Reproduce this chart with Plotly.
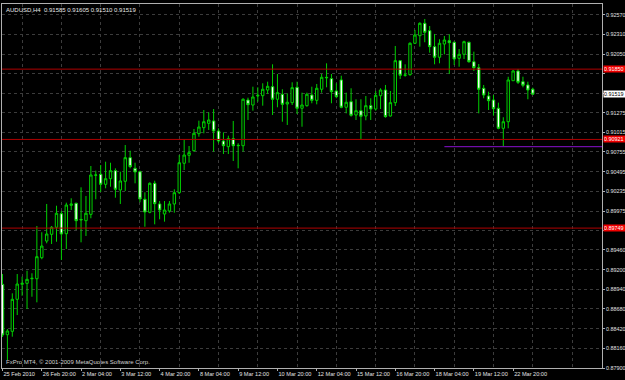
import plotly.graph_objects as go

# ---- data (AUDUSD H4, bars indexed from 25 Feb 2010 12:00) ----
opens = [0.89006, 0.88340, 0.88385, 0.88808, 0.89006, 0.89019, 0.89080, 0.89080, 0.89358, 0.89578,
         0.89667, 0.89760, 0.89939, 0.89675, 0.90050, 0.90077, 0.89856, 0.89847, 0.89931, 0.90447,
         0.90460, 0.90328, 0.90402, 0.90508, 0.90253, 0.90368, 0.90680, 0.90539, 0.90494, 0.90130,
         0.89958, 0.90341, 0.90068, 0.89935, 0.89975, 0.90068, 0.90217, 0.90606, 0.90711, 0.90772,
         0.90997, 0.91076, 0.91134, 0.91165, 0.91032, 0.90900, 0.90825, 0.90931, 0.90843, 0.90838,
         0.91442, 0.91376, 0.91495, 0.91499, 0.91574, 0.91618, 0.91452, 0.91518, 0.91389, 0.91407,
         0.91610, 0.91333, 0.91367, 0.91508, 0.91438, 0.91584, 0.91742, 0.91724, 0.91561, 0.91707,
         0.91346, 0.91420, 0.91244, 0.91301, 0.91231, 0.91367, 0.91323, 0.91499, 0.91574, 0.91231,
         0.91407, 0.91962, 0.91769, 0.91777, 0.92192, 0.92292, 0.92456, 0.92358, 0.92147, 0.92007,
         0.92182, 0.92226, 0.92205, 0.91993, 0.92046, 0.92205, 0.91948, 0.91869, 0.91597, 0.91495,
         0.91442, 0.91333, 0.91068, 0.91155, 0.91697, 0.91826, 0.91684, 0.91641, 0.91585]
highs = [0.89142, 0.88415, 0.88887, 0.89142, 0.89107, 0.89186, 0.89152, 0.89777, 0.89694, 0.90068,
         0.89777, 0.90045, 0.89975, 0.90085, 0.90143, 0.90085, 0.90288, 0.90173, 0.90570, 0.90508,
         0.90583, 0.90627, 0.90613, 0.90539, 0.90494, 0.90847, 0.90772, 0.90613, 0.90508, 0.90222,
         0.90354, 0.90375, 0.90107, 0.90107, 0.90107, 0.90262, 0.90715, 0.90920, 0.90834, 0.91059,
         0.91169, 0.91310, 0.91280, 0.91323, 0.91068, 0.91015, 0.90970, 0.91165, 0.90870, 0.91465,
         0.91473, 0.91618, 0.91610, 0.91663, 0.91684, 0.91914, 0.91786, 0.91584, 0.91531, 0.91676,
         0.91684, 0.91539, 0.91539, 0.91618, 0.91654, 0.91786, 0.91927, 0.91786, 0.91663, 0.91763,
         0.91539, 0.91597, 0.91452, 0.91452, 0.91495, 0.91465, 0.91561, 0.91597, 0.91641, 0.91561,
         0.92156, 0.91971, 0.91914, 0.92205, 0.92368, 0.92469, 0.92513, 0.92420, 0.92315, 0.92245,
         0.92288, 0.92311, 0.92213, 0.92116, 0.92226, 0.92213, 0.92081, 0.91918, 0.91641, 0.91552,
         0.91508, 0.91407, 0.91214, 0.91750, 0.91839, 0.91852, 0.91750, 0.91684, 0.91605]
lows = [0.88310, 0.88006, 0.88314, 0.88600, 0.88855, 0.88680, 0.88842, 0.88768, 0.89337, 0.89548,
        0.89539, 0.89569, 0.89327, 0.89473, 0.89988, 0.89724, 0.89561, 0.89645, 0.89879, 0.90130,
        0.90226, 0.90275, 0.90296, 0.90151, 0.90068, 0.90239, 0.90539, 0.90341, 0.90090, 0.89767,
        0.89945, 0.89799, 0.89865, 0.89834, 0.89953, 0.89953, 0.90200, 0.90517, 0.90613, 0.90759,
        0.90957, 0.91002, 0.91046, 0.90759, 0.90870, 0.90728, 0.90728, 0.90636, 0.90539, 0.90759,
        0.91178, 0.91301, 0.91420, 0.91367, 0.91522, 0.91244, 0.91346, 0.91155, 0.91112, 0.91376,
        0.91257, 0.91089, 0.91354, 0.91399, 0.91385, 0.91539, 0.91610, 0.91399, 0.91465, 0.91333,
        0.91266, 0.91222, 0.91178, 0.90927, 0.91174, 0.91178, 0.91301, 0.91323, 0.91208, 0.91222,
        0.91363, 0.91720, 0.91750, 0.91763, 0.92182, 0.92147, 0.92205, 0.92067, 0.91914, 0.91927,
        0.92046, 0.91786, 0.91905, 0.91882, 0.91984, 0.91935, 0.91826, 0.91266, 0.91465, 0.91310,
        0.91235, 0.91055, 0.90834, 0.91068, 0.91697, 0.91654, 0.91610, 0.91452, 0.91510]
closes = [0.88336, 0.88389, 0.88808, 0.89010, 0.89019, 0.89072, 0.89085, 0.89371, 0.89512, 0.89671,
          0.89760, 0.89945, 0.89671, 0.90054, 0.90068, 0.89847, 0.89863, 0.89945, 0.90451, 0.90451,
          0.90328, 0.90402, 0.90508, 0.90262, 0.90372, 0.90680, 0.90561, 0.90491, 0.90134, 0.89962,
          0.90341, 0.90072, 0.89988, 0.89988, 0.90068, 0.90217, 0.90613, 0.90715, 0.90746, 0.91002,
          0.91085, 0.91155, 0.91178, 0.91032, 0.90900, 0.90838, 0.90931, 0.90838, 0.90839, 0.91452,
          0.91380, 0.91482, 0.91504, 0.91584, 0.91623, 0.91452, 0.91539, 0.91385, 0.91412, 0.91605,
          0.91333, 0.91376, 0.91518, 0.91438, 0.91597, 0.91742, 0.91737, 0.91552, 0.91486, 0.91346,
          0.91412, 0.91240, 0.91301, 0.91227, 0.91367, 0.91323, 0.91504, 0.91574, 0.91222, 0.91407,
          0.91962, 0.91769, 0.91773, 0.92192, 0.92301, 0.92456, 0.92337, 0.92147, 0.92007, 0.92192,
          0.92235, 0.92200, 0.91984, 0.92046, 0.92213, 0.91948, 0.91869, 0.91584, 0.91508, 0.91433,
          0.91327, 0.91068, 0.91155, 0.91707, 0.91826, 0.91676, 0.91637, 0.91574, 0.91519]

time_tick_bars = [0, 8, 16, 24, 32, 40, 48, 56, 64, 72, 80, 88, 96, 104]
time_tick_labels = ["25 Feb 2010", "26 Feb 20:00", "2 Mar 04:00", "3 Mar 12:00", "4 Mar 20:00",
                    "8 Mar 04:00", "9 Mar 12:00", "10 Mar 20:00", "12 Mar 04:00", "15 Mar 12:00",
                    "16 Mar 20:00", "18 Mar 04:00", "19 Mar 12:00", "22 Mar 20:00"]

price_ticks = [0.87900, 0.88160, 0.88420, 0.88680, 0.88940, 0.89200, 0.89460, 0.89715, 0.89975,
               0.90235, 0.90495, 0.90755, 0.91015, 0.91275, 0.91530, 0.91790, 0.92050, 0.92310, 0.92570]
# labels hidden behind the level boxes are left blank
price_tick_labels = ["0.87900", "0.88160", "0.88420", "0.88680", "0.88940", "0.89200", "0.89460",
                     "", "0.89975", "0.90235", "0.90495", "0.90755", "0.91015", "0.91275",
                     "", "", "0.92050", "0.92310", "0.92570"]

red_levels = [0.91850, 0.90921, 0.89749]
red_level_labels = ["0.91850", "0.90921", "0.89749"]
purple_level = 0.90825
purple_start_bar = 90
bid_price = 0.91519
bid_label = "0.91519"

header = "AUDUSD,H4  0.91585 0.91605 0.91510 0.91519"
copyright_text = "FxPro MT4, \u00a9 2001-2009 MetaQuotes Software Corp."

x_range = [-0.1, 122.1]
y_range = [0.87900, 0.92711]

GREEN = "#00d000"
FONT = "Liberation Sans"

bars = list(range(len(opens)))

fig = go.Figure()
fig.add_trace(go.Candlestick(
    x=bars, open=opens, high=highs, low=lows, close=closes,
    increasing=dict(line=dict(color=GREEN, width=1), fillcolor="black"),
    decreasing=dict(line=dict(color=GREEN, width=1), fillcolor="white"),
    whiskerwidth=0, hoverinfo="skip", showlegend=False,
))

shapes = []
for lv in red_levels:
    shapes.append(dict(type="line", xref="paper", x0=0, x1=1, yref="y", y0=lv, y1=lv,
                       line=dict(color="#b00000", width=1), layer="above"))
shapes.append(dict(type="line", xref="x", x0=purple_start_bar, x1=x_range[1], yref="y",
                   y0=purple_level, y1=purple_level, line=dict(color="#8a10d0", width=1)))

annotations = []
for lv, txt in zip(red_levels, red_level_labels):
    annotations.append(dict(xref="paper", x=1.0, xanchor="left", xshift=1, yref="y", y=lv,
                            yanchor="middle", text=txt, showarrow=False,
                            bgcolor="#f00000", font=dict(family=FONT, size=5.4, color="white"),
                            borderpad=0, width=22, height=6, align="left"))
annotations.append(dict(xref="paper", x=1.0, xanchor="left", xshift=1, yref="y", y=bid_price,
                        yanchor="middle", text=bid_label, showarrow=False,
                        bgcolor="white", font=dict(family=FONT, size=5.4, color="black"),
                        borderpad=0, width=22, height=6, align="left"))
annotations.append(dict(xref="paper", x=0, xshift=2, xanchor="left", yref="paper", y=1, yshift=-1,
                        yanchor="top", text=header, showarrow=False,
                        font=dict(family=FONT, size=6, color="#e8e8e8")))
annotations.append(dict(xref="paper", x=0, xshift=2, xanchor="left", yref="paper", y=0, yshift=1,
                        yanchor="bottom", text=copyright_text, showarrow=False,
                        font=dict(family=FONT, size=6, color="#d0d0d0")))

fig.update_layout(
    width=625, height=380,
    margin=dict(l=2, r=23, t=4, b=12, autoexpand=False),
    paper_bgcolor="black", plot_bgcolor="black",
    shapes=shapes, annotations=annotations,
    xaxis=dict(range=x_range, rangeslider=dict(visible=False), showgrid=False,
               tickmode="array", tickvals=time_tick_bars, ticktext=time_tick_labels,
               tickangle=0, ticks="outside", ticklen=2, tickcolor="#b0b0b0",
               ticklabelposition="outside right", ticklabelstandoff=0,
               tickfont=dict(family=FONT, size=5.6, color="#e0e0e0"),
               showline=True, linecolor="#b0b0b0", linewidth=1, mirror=True, zeroline=False,
               minor=dict(tickmode="linear", tick0=4, dtick=8, showgrid=True,
                          gridcolor="#3c3c3c", griddash="dot", gridwidth=1, ticks="")),
    yaxis=dict(range=y_range, side="right", tickmode="array", tickvals=price_ticks,
               ticktext=price_tick_labels, ticks="outside", ticklen=2, tickcolor="#b0b0b0",
               tickfont=dict(family=FONT, size=5.4, color="#e0e0e0"),
               showgrid=True, gridcolor="#3c3c3c", griddash="dot", gridwidth=1,
               showline=True, linecolor="#b0b0b0", linewidth=1, mirror=True, zeroline=False),
)

fig.write_html("out.html")
